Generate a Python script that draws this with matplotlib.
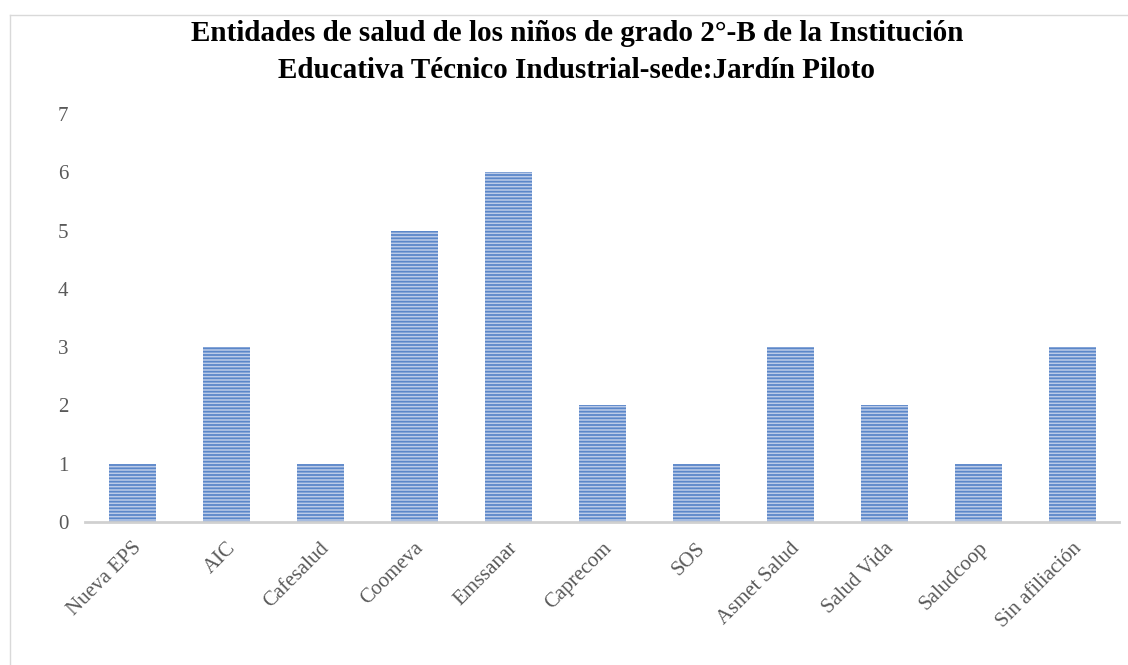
import matplotlib.pyplot as plt
from matplotlib.lines import Line2D

entidades = ['Nueva EPS', 'AIC', 'Cafesalud', 'Coomeva', 'Emssanar', 'Caprecom',
             'SOS', 'Asmet Salud', 'Salud Vida', 'Saludcoop', 'Sin afiliación']
ninos = [1, 3, 1, 5, 6, 2, 1, 3, 2, 1, 3]

plt.rcParams['hatch.linewidth'] = 1.3

fig = plt.figure(figsize=(11.28, 6.65), dpi=100)
ax = fig.add_axes([85/1128, 1-522/665, 1034/1128, 408/665])

x = range(len(entidades))
ax.bar(x, ninos, width=0.5, color='#bccbe8', edgecolor='#5b87c9',
       linewidth=0, hatch='-----')

ax.set_xlim(-0.5, len(entidades) - 0.5)
ax.set_ylim(0, 7)
ax.set_yticks(range(8))
ax.set_xticks(list(x))
ax.set_xticklabels(entidades, rotation=45, ha='right', rotation_mode='anchor',
                   fontsize=15, color='#595959', family='Liberation Serif')
ax.tick_params(axis='y', length=0, labelsize=15, labelcolor='#595959', pad=12)
ax.tick_params(axis='x', length=0, pad=12)
for lab in ax.get_yticklabels():
    lab.set_family('Liberation Serif')

for s in ['top', 'right', 'left']:
    ax.spines[s].set_visible(False)
ax.spines['bottom'].set_color('#d0d0d0')
ax.spines['bottom'].set_linewidth(2)

fig.text(577/1128, 1-52/665,
         'Entidades de salud de los niños de grado 2°-B de la Institución\n'
         'Educativa Técnico Industrial-sede:Jardín Piloto',
         ha='center', va='center', fontsize=21, fontweight='bold',
         family='Liberation Serif', linespacing=1.5)

# borde del área del gráfico
fig.add_artist(Line2D([10/1128, 10/1128], [0, 1-15/665], color='#d9d9d9', lw=1))
fig.add_artist(Line2D([10/1128, 1], [1-15/665, 1-15/665], color='#d9d9d9', lw=1))

fig.savefig('out.png', dpi=100)
